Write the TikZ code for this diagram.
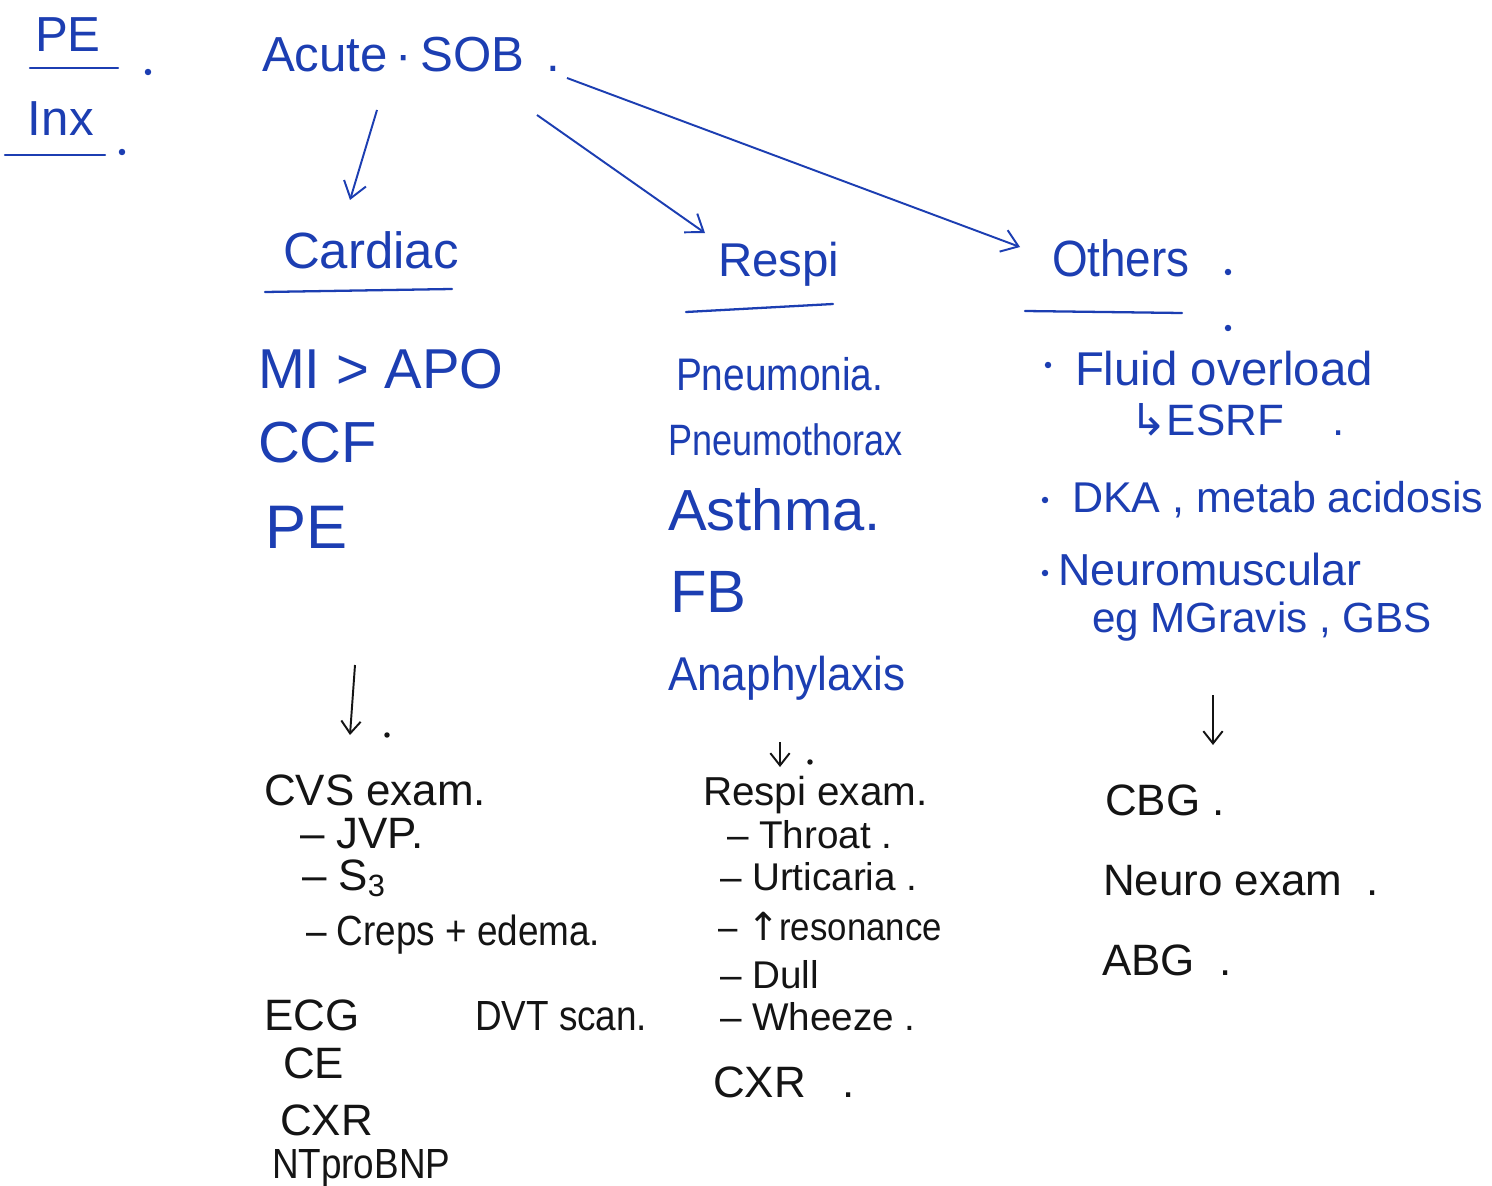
\documentclass[tikz,border=0pt]{standalone}
\usepackage{fontspec}
\setmainfont{Liberation Sans}
\newfontfamily\arrowfont{DejaVu Sans}
\usetikzlibrary{arrows.meta}
\definecolor{ink}{RGB}{28,62,178}
\definecolor{pencil}{RGB}{20,20,20}
\begin{document}
\begin{tikzpicture}[x=0.02cm,y=-0.02cm,
  txt/.style={anchor=base west,inner sep=0pt,outer sep=0pt},
  big/.style={txt,text=ink,font=\fontsize{28}{32}\selectfont},
  mid/.style={txt,text=ink,font=\fontsize{25}{29}\selectfont},
  low/.style={txt,text=pencil,font=\fontsize{25}{28}\selectfont},
  lows/.style={txt,text=pencil,font=\fontsize{22}{26}\selectfont},
  fs/.style={font=\fontsize{#1}{#1}\selectfont},
  fsc/.style 2 args={font=\fontsize{#1}{#1}\selectfont\addfontfeatures{FakeStretch=#2}},
  uline/.style={draw=ink,line width=1.3pt,line cap=round},
  arr/.style={draw=ink,line width=1.1pt,-{Straight Barb[length=9pt,width=13pt]}},
  darr/.style={draw=pencil,line width=1.1pt,-{Straight Barb[length=7pt,width=11pt]}},
  dotb/.style={fill=ink,circle,inner sep=1.3pt},
  dotk/.style={fill=pencil,circle,inner sep=1.1pt}]
\useasboundingbox[fill=white] (0,0) rectangle (1492,1186);

% margin headings
\node[big] (pe0) at (35,52) {PE};
\node[big] (inx) at (28,135) {Inx};
\draw[uline] (30,68) -- (118,68);
\draw[uline] (5,155) -- (105,155);
\node[dotb] at (148,72) {};
\node[dotb] at (122,152) {};

% root
\node[big] (sob) at (262,72) {Acute\,·\,SOB\, .};

% categories
\node[big,fs=29] (card) at (283,268) {Cardiac};
\node[big,fs=27] (resp) at (718,276) {Respi};
\node[big,fsc={29}{0.9}] (oth) at (1052,276) {Others};
\draw[uline] (265,292) -- (452,289);
\draw[uline] (686,312) -- (833,304);
\draw[uline] (1025,311) -- (1182,313);
\node[dotb] at (1228,272) {};
\node[dotb] at (1228,328) {};

\draw[arr] ([shift={(115,38)}]sob.base west) -- ([shift={(67,-68)}]card.base west);
\draw[arr] ([shift={(275,43)}]sob.base west) -- ([shift={(-13,-43)}]resp.base west);
\draw[arr] ([shift={(305,6)}]sob.base west) -- ([shift={(-32,-29)}]oth.base west);

% cardiac causes
\node[big,fs=32] (mi) at (258,388) {MI > APO};
\node[big,fs=33] (ccf) at (258,462) {CCF};
\node[big,fs=35] (pe) at (265,548) {PE};

% respiratory causes
\node[mid,fsc={26}{0.85}] (pneu) at (676,390) {Pneumonia.};
\node[mid,fsc={25}{0.82}] (ptx) at (668,455) {Pneumothorax};
\node[big,fs=33] (asth) at (668,530) {Asthma.};
\node[big,fs=34] (fb) at (670,612) {FB};
\node[mid,fsc={27}{0.93}] (ana) at (668,690) {Anaphylaxis};

% other causes
\node[dotb] at (1048,365) {};
\node[mid,fs=27] (fluid) at (1075,385) {Fluid overload};
\node[mid,fs=25] (esrf) at (1130,435) {{\arrowfont ↳}ESRF\ \ \ \ .};
\node[dotb] at (1045,500) {};
\node[mid,fs=24.5] (dka) at (1072,512) {DKA , metab acidosis};
\node[dotb] at (1045,573) {};
\node[mid,fs=25.5] (neuro) at (1058,585) {Neuromuscular};
\node[mid,fs=24] (mg) at (1092,632) {eg MGravis , GBS};

% cardiac work-up
\node[low] (cvs) at (264,805) {CVS exam.};
\draw[darr] ([shift={(91,-140)}]cvs.base west) -- ([shift={(86,-70)}]cvs.base west);
\node[dotk] at (387,735) {};
\node[low] (jvp) at (300,848) {– JVP.};
\node[low] (s3) at (302,890) {– S\textsubscript{3}};
\node[low,fsc={24}{0.875}] (creps) at (306,945) {– Creps + edema.};
\node[low] (ecg) at (264,1030) {ECG};
\node[low,fsc={24}{0.875}] (dvt) at (475,1030) {DVT scan.};
\node[low] (ce) at (283,1078) {CE};
\node[low] (cxr1) at (280,1135) {CXR};
\node[low,fsc={24}{0.875}] (bnp) at (272,1178) {NTproBNP};

% respiratory work-up
\node[lows,fs=23] (rex) at (703,805) {Respi exam.};
\draw[darr] ([shift={(77,-63)}]rex.base west) -- ([shift={(77,-38)}]rex.base west);
\node[dotk] at (810,762) {};
\node[lows] (thr) at (727,848) {– Throat .};
\node[lows] (urt) at (720,890) {– Urticaria .};
\node[lows,fsc={22}{0.9}] (res) at (718,940) {– {\arrowfont ↑}resonance};
\node[lows] (dull) at (720,988) {– Dull};
\node[lows] (whz) at (720,1030) {– Wheeze .};
\node[low] (cxr2) at (713,1097) {CXR\ \ \ .};

% other work-up
\node[low] (cbg) at (1105,815) {CBG .};
\draw[darr] ([shift={(108,-120)}]cbg.base west) -- ([shift={(108,-70)}]cbg.base west);
\node[low] (nex) at (1103,895) {Neuro exam\ \ .};
\node[low] (abg) at (1102,975) {ABG\ \ .};
\end{tikzpicture}
\end{document}
